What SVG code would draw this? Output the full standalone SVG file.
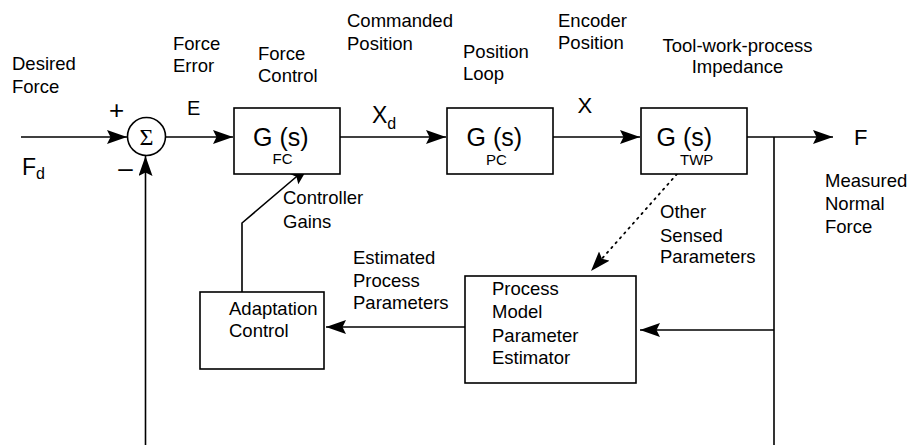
<svg xmlns="http://www.w3.org/2000/svg" width="913" height="445" viewBox="0 0 913 445">
<style>
text{font-family:"Liberation Sans",Arial,sans-serif;fill:#000}
.lbl{font-size:18.5px}
.g{font-size:25px}
.sub{font-size:15px}
.big{font-size:22px}
.box{fill:#fff;stroke:#000;stroke-width:1.6}
.ln{fill:none;stroke:#000;stroke-width:1.6}
</style>
<defs>
<marker id="ah" markerUnits="userSpaceOnUse" markerWidth="22" markerHeight="16" refX="20" refY="7" orient="auto">
<path d="M0,0 L20,7 L0,14 L3.5,7 z" fill="#000"/>
</marker>
</defs>
<rect width="913" height="445" fill="#fff"/>
<g id="connectors">
<line class="ln" x1="21" y1="137" x2="127" y2="137" marker-end="url(#ah)"/>
<line class="ln" x1="165" y1="137" x2="233" y2="137" marker-end="url(#ah)"/>
<line class="ln" x1="340" y1="137" x2="446" y2="137" marker-end="url(#ah)"/>
<line class="ln" x1="553" y1="137" x2="640" y2="137" marker-end="url(#ah)"/>
<line class="ln" x1="747" y1="137" x2="833" y2="137" marker-end="url(#ah)"/>
<line class="ln" x1="774" y1="137" x2="774" y2="445"/>
<line class="ln" x1="774" y1="330" x2="640" y2="330" marker-end="url(#ah)"/>
<line class="ln" x1="145.5" y1="445" x2="145.5" y2="156" marker-end="url(#ah)"/>
<line class="ln" x1="465" y1="327" x2="326" y2="327" marker-end="url(#ah)"/>
<polyline class="ln" points="242,292 242,223 309,166" marker-end="url(#ah)"/>
<line x1="677" y1="174" x2="591" y2="271" stroke="#000" stroke-width="1.8" stroke-dasharray="1.5,5" stroke-linecap="round" marker-end="url(#ah)"/>
</g>
<g id="sum">
<circle cx="146.5" cy="136.5" r="19" fill="#fff" stroke="#000" stroke-width="1.6"/>
<text x="146.5" y="145" text-anchor="middle" style="font-family:'Liberation Serif','Times New Roman',serif;font-size:24px">Σ</text>
<text x="116.5" y="119" text-anchor="middle" style="font-size:26px">+</text>
<text x="125.5" y="177" text-anchor="middle" style="font-size:26px">–</text>
</g>
<g id="gfc">
<rect class="box" x="234" y="108" width="106" height="66"/>
<text class="g" x="253" y="146">G (s)</text>
<text class="sub" x="272.5" y="164">FC</text>
</g>
<g id="gpc">
<rect class="box" x="447" y="108" width="106" height="66"/>
<text class="g" x="466.5" y="146">G (s)</text>
<text class="sub" x="486" y="165">PC</text>
</g>
<g id="gtwp">
<rect class="box" x="641" y="108" width="106" height="66"/>
<text class="g" x="656.5" y="146">G (s)</text>
<text class="sub" x="680" y="165">TWP</text>
</g>
<g id="estimator">
<rect class="box" x="465" y="276" width="171" height="107"/>
<text class="lbl" x="492" y="295">Process</text>
<text class="lbl" x="492" y="318">Model</text>
<text class="lbl" x="492" y="341.5">Parameter</text>
<text class="lbl" x="492" y="364">Estimator</text>
</g>
<g id="adaptation">
<rect class="box" x="200" y="292" width="124" height="77"/>
<text class="lbl" x="229" y="315">Adaptation</text>
<text class="lbl" x="229" y="337">Control</text>
</g>
<g id="labels">
<text class="lbl" x="12" y="70">Desired</text>
<text class="lbl" x="12" y="93">Force</text>
<text class="lbl" x="173" y="50">Force</text>
<text class="lbl" x="173" y="72">Error</text>
<text class="lbl" x="258" y="60">Force</text>
<text class="lbl" x="258" y="82">Control</text>
<text class="lbl" x="347" y="27">Commanded</text>
<text class="lbl" x="347" y="50">Position</text>
<text class="lbl" x="463" y="58">Position</text>
<text class="lbl" x="463" y="80">Loop</text>
<text class="lbl" x="558" y="27">Encoder</text>
<text class="lbl" x="558" y="49">Position</text>
<text class="lbl" x="737.5" y="52" text-anchor="middle">Tool-work-process</text>
<text class="lbl" x="737.5" y="73" text-anchor="middle">Impedance</text>
<text class="lbl" x="283" y="204">Controller</text>
<text class="lbl" x="283" y="228">Gains</text>
<text class="lbl" x="353" y="264">Estimated</text>
<text class="lbl" x="353" y="287">Process</text>
<text class="lbl" x="353" y="309">Parameters</text>
<text class="lbl" x="660" y="218">Other</text>
<text class="lbl" x="660" y="241.5">Sensed</text>
<text class="lbl" x="660" y="263">Parameters</text>
<text class="lbl" x="825" y="187">Measured</text>
<text class="lbl" x="825" y="210">Normal</text>
<text class="lbl" x="825" y="233">Force</text>
<text x="187" y="115" style="font-size:20px">E</text>
<text x="22" y="175" style="font-size:23px">F<tspan dy="4" style="font-size:16px">d</tspan></text>
<text x="372" y="123" style="font-size:23px">X<tspan dy="5.5" style="font-size:16px">d</tspan></text>
<text class="big" x="577.5" y="113">X</text>
<text class="big" x="854" y="145">F</text>
</g>
</svg>
